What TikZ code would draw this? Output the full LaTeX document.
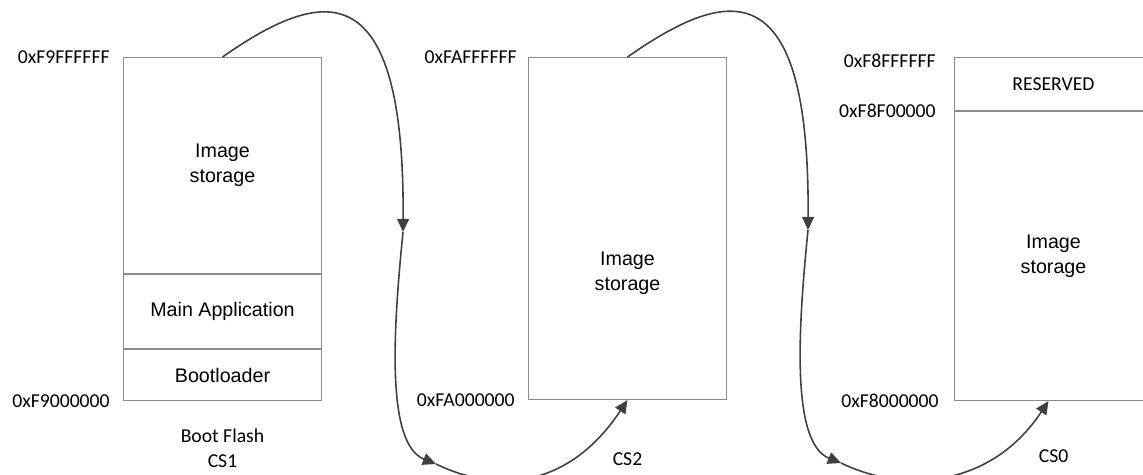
\documentclass[tikz,border=0pt]{standalone}
\usepackage{fontspec}
\setmainfont{Carlito}
\newfontfamily\arialfont{Liberation Sans}
\usetikzlibrary{arrows.meta, positioning}
\definecolor{CellGray}{HTML}{8C8C8C}
\definecolor{FlowGray}{HTML}{404040}
\newcommand\addrsize{\fontsize{11.2pt}{14pt}\selectfont}
\tikzset{
  memcell/.style={draw=CellGray, line width=0.6pt, minimum width=3.96cm, inner sep=0pt, align=center, font=\arialfont\addrsize},
  celltext/.style={inner sep=0pt, align=center, font=\arialfont\addrsize},
  addr/.style={inner sep=0pt, align=center, font=\addrsize},
  flow/.style={-{Triangle[length=7.5pt, width=6.8pt]}, line width=0.9pt, draw=FlowGray}
}

\begin{document}
\begin{tikzpicture}[x=0.02cm, y=-0.02cm]
\useasboundingbox (0,0) rectangle (1143,474);
\clip (0,0) rectangle (1143,474);
% boot flash
\node[memcell, minimum height=4.32cm, anchor=north west] (b1img) at (123,57) {Image\\storage};
\node[memcell, minimum height=1.48cm, below=0pt of b1img] (b1app) {Main Application};
\node[memcell, minimum height=1.02cm, below=0pt of b1app] (b1boot) {Bootloader};
\node[addr, left=0.26cm of b1img.north west] (b1hi) {0xF9FFFFFF};
\node[addr, left=0.26cm of b1boot.south west] (b1lo) {0xF9000000};
\node[addr, below=0.55cm of b1boot] (b1name) {Boot Flash\\CS1};
% second flash
\node[memcell, minimum height=6.84cm, anchor=north west] (b2) at (528,57) {};
\node[celltext] (b2txt) at ([yshift=-0.9cm]b2.center) {Image\\storage};
\node[addr, left=0.22cm of b2.north west] (b2hi) {0xFAFFFFFF};
\node[addr, left=0.26cm of b2.south west] (b2lo) {0xFA000000};
\node[addr, below=1.04cm of b2] (b2name) {CS2};
% third flash
\node[memcell, font=\addrsize, minimum height=1.06cm, anchor=north west] (b3res) at (954,57) {RESERVED};
\node[memcell, minimum height=5.78cm, below=0pt of b3res] (b3img) {Image\\storage};
\node[addr, left=0.36cm of b3res.north west, yshift=-0.08cm] (b3hi) {0xF8FFFFFF};
\node[addr, left=0.36cm of b3res.south west] (b3mid) {0xF8F00000};
\node[addr, left=0.3cm of b3img.south west] (b3lo) {0xF8000000};
\node[addr, below=0.96cm of b3img] (b3name) {CS0};
% chaining arrows
\coordinate (k1) at (403,232);
\coordinate (k2) at (436,464);
\coordinate (k3) at (808,230);
\coordinate (k4) at (841,463);
\draw[flow] (b1img.north) .. controls +(100,-70) and +(2,-262) .. (k1);
\draw[flow] (k1) .. controls +(-10,100) and +(-50,-20) .. (k2);
\draw[flow] (k2) .. controls +(64,31) and +(-57,86) .. (b2.south);
\draw[flow] (b2.north) .. controls +(100,-70) and +(2,-262) .. (k3);
\draw[flow] (k3) .. controls +(-10,100) and +(-50,-20) .. (k4);
\draw[flow] (k4) .. controls +(64,31) and +(-57,86) .. ([xshift=-0.1cm]b3img.south);
\end{tikzpicture}
\end{document}
